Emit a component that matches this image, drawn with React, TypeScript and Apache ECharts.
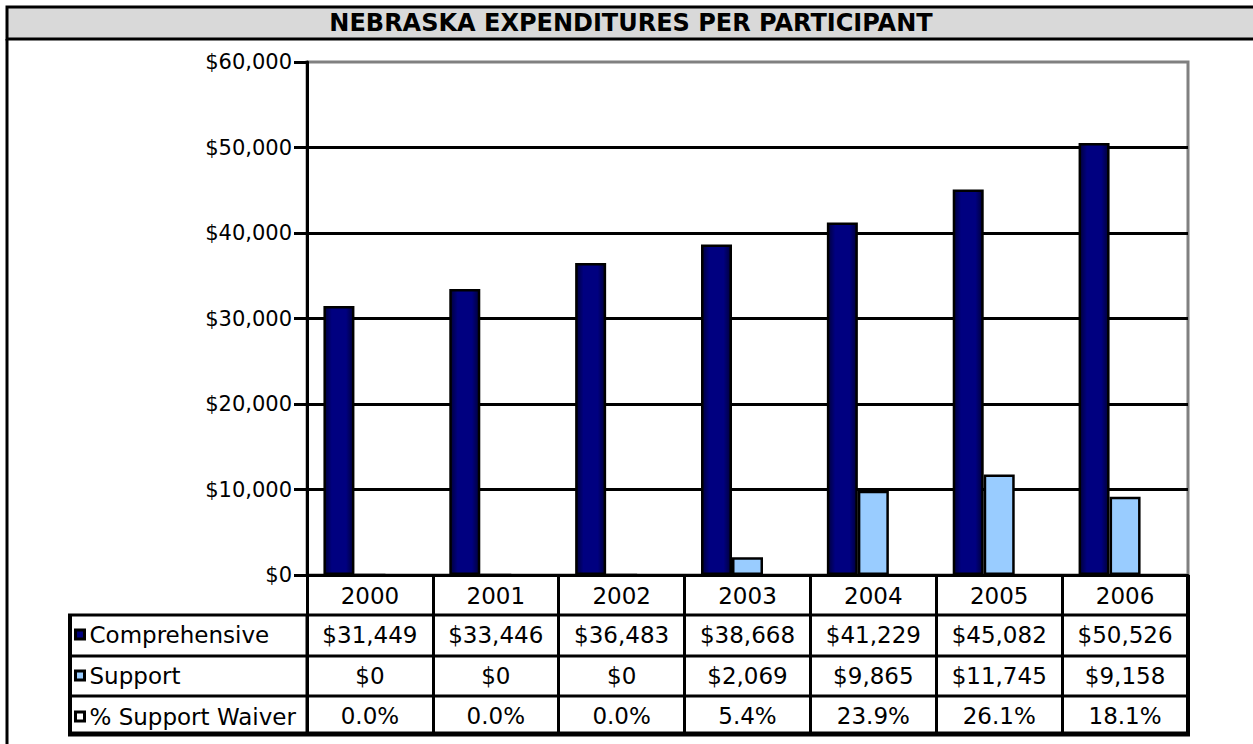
import React, { useEffect, useRef } from 'react';
import * as echarts from 'echarts';

// ---- data ----
const titleText = 'NEBRASKA EXPENDITURES PER PARTICIPANT';
const years = ['2000', '2001', '2002', '2003', '2004', '2005', '2006'];
const seriesNames = ['Comprehensive', 'Support', '% Support Waiver'];
const comprehensive = [31449, 33446, 36483, 38668, 41229, 45082, 50526];
const support = [0, 0, 0, 2069, 9865, 11745, 9158];
const supportWaiverPct = [0.0, 0.0, 0.0, 5.4, 23.9, 26.1, 18.1];
const yMin = 0;
const yMax = 60000;
const yInterval = 10000;

const money = (v: number) => '$' + v.toLocaleString('en-US');
const pct = (v: number) => v.toFixed(1) + '%';

// ---- layout ----
const W = 1253;
const H = 744;
const FONT = 'DejaVu Sans';
const GL = 307; // grid left
const GR = 1188; // grid right
const GT = 62; // grid top
const GB = 575; // grid bottom (axis)
const rowLines = [615, 656, 696];
const tableBottom = 734;
const tableLeft = 70;

export default function App() {
  const ref = useRef<HTMLDivElement>(null);

  useEffect(() => {
    if (!ref.current) return;
    const chart = echarts.init(ref.current, null, { renderer: 'svg' });

    const labelStyle = { fontFamily: FONT, fontSize: 23, color: '#000' };
    const rowAxis = (data: string[], offset: number) => ({
      type: 'category',
      gridIndex: 0,
      position: 'bottom',
      offset,
      data,
      axisLine: { show: false },
      axisTick: { show: false },
      splitLine: { show: false },
      axisLabel: { ...labelStyle, margin: 8, interval: 0 },
    });

    const darkGrad = new echarts.graphic.LinearGradient(0, 0, 1, 0, [
      { offset: 0, color: '#00003c' },
      { offset: 0.25, color: '#000080' },
      { offset: 0.75, color: '#000080' },
      { offset: 1, color: '#00003c' },
    ]);

    const hLine = (y: number, w: number) => ({
      type: 'line',
      shape: { x1: tableLeft - 2, y1: y, x2: GR + 2, y2: y },
      style: { stroke: '#000', lineWidth: w },
      z: 10,
    });

    const option: any = {
      animation: false,
      backgroundColor: '#fff',
      title: {
        text: titleText,
        left: 631,
        top: 11,
        padding: 0,
        textAlign: 'center',
        textStyle: { fontFamily: FONT, fontWeight: 'bold', fontSize: 24, lineHeight: 24, color: '#000' },
      },
      legend: {
        orient: 'vertical',
        left: 74,
        top: 623,
        padding: 0,
        icon: 'rect',
        itemWidth: 9,
        itemHeight: 9,
        itemGap: 18,
        selectedMode: false,
        data: seriesNames,
        itemStyle: { borderColor: '#000', borderWidth: 3 },
        textStyle: { fontFamily: FONT, fontSize: 23, lineHeight: 22, color: '#000' },
      },
      grid: {
        left: GL,
        top: GT,
        width: GR - GL,
        height: GB - GT,
        show: true,
        borderColor: '#808080',
        borderWidth: 3,
        backgroundColor: 'transparent',
        outerBoundsMode: 'none',
        containLabel: false,
      },
      xAxis: [
        {
          type: 'category',
          gridIndex: 0,
          position: 'bottom',
          data: years,
          axisLine: { show: true, lineStyle: { color: '#000', width: 3 } },
          axisTick: { show: true, interval: 0, length: tableBottom - GB + 1, lineStyle: { color: '#000', width: 3 } },
          axisLabel: { ...labelStyle, margin: 9, interval: 0 },
          splitLine: { show: false },
        },
        rowAxis(comprehensive.map(money), rowLines[0] - GB),
        rowAxis(support.map(money), rowLines[1] - GB),
        rowAxis(supportWaiverPct.map(pct), rowLines[2] - GB),
      ],
      yAxis: {
        type: 'value',
        min: yMin,
        max: yMax,
        interval: yInterval,
        axisLine: { show: true, lineStyle: { color: '#000', width: 3 } },
        axisTick: { show: true, length: 13, lineStyle: { color: '#000', width: 3 } },
        axisLabel: { fontFamily: FONT, fontSize: 21, color: '#000', margin: 15, formatter: (v: number) => money(v) },
        splitLine: { show: true, showMaxLine: false, lineStyle: { color: '#000', width: 3 } },
      },
      series: [
        {
          name: seriesNames[0],
          type: 'bar',
          data: comprehensive,
          barWidth: 31,
          barGap: '0%',
          itemStyle: { color: darkGrad, borderColor: '#000', borderWidth: 2.5 },
        },
        {
          name: seriesNames[1],
          type: 'bar',
          data: support,
          barWidth: 31,
          barGap: '0%',
          itemStyle: { color: '#99ccff', borderColor: '#000', borderWidth: 2.5 },
        },
        {
          name: seriesNames[2],
          type: 'bar',
          data: supportWaiverPct,
          barWidth: 31,
          barGap: '0%',
          itemStyle: { color: '#ffffff', borderColor: '#000', borderWidth: 2 },
        },
      ],
      graphic: [
        {
          type: 'rect',
          shape: { x: 7, y: 7, width: W + 20, height: 32 },
          style: { fill: '#d9d9d9', stroke: '#000', lineWidth: 3 },
          z: -10,
        },
        {
          type: 'line',
          shape: { x1: 7, y1: 39, x2: 7, y2: H + 5 },
          style: { stroke: '#000', lineWidth: 3 },
        },
        ...rowLines.map((y) => hLine(y, 3)),
        hLine(tableBottom, 5),
        {
          type: 'line',
          shape: { x1: tableLeft, y1: rowLines[0], x2: tableLeft, y2: tableBottom + 2 },
          style: { stroke: '#000', lineWidth: 4 },
          z: 10,
        },
        {
          type: 'line',
          shape: { x1: GR, y1: GB, x2: GR, y2: tableBottom + 2 },
          style: { stroke: '#000', lineWidth: 4 },
          z: 10,
        },
        {
          type: 'line',
          shape: { x1: GL, y1: rowLines[0], x2: GL, y2: tableBottom + 2 },
          style: { stroke: '#000', lineWidth: 3 },
          z: 10,
        },
      ],
    };

    chart.setOption(option);
    return () => chart.dispose();
  }, []);

  return <div ref={ref} style={{ position: 'absolute', left: 0, top: 0, width: W, height: H }} />;
}
